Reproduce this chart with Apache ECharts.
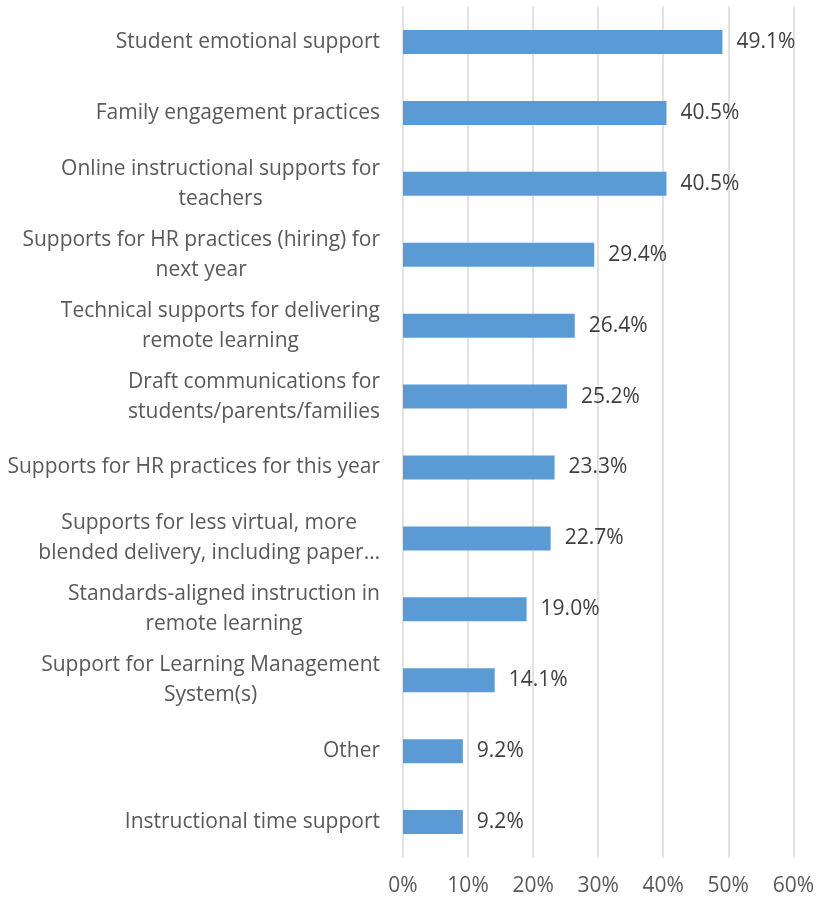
<!DOCTYPE html>
<html><head><meta charset="utf-8">
<script src="https://cdn.jsdelivr.net/npm/echarts@6/dist/echarts.min.js"></script>
<style>html,body{margin:0;padding:0;background:#fff}#c{width:817px;height:897px}</style>
</head><body><div id="c"></div>
<script>
const categories = [
  "Student emotional support",
  "Family engagement practices",
  "Online instructional supports for\nteachers",
  "Supports for HR practices (hiring) for\nnext year",
  "Technical supports for delivering\nremote learning",
  "Draft communications for\nstudents/parents/families",
  "Supports for HR practices for this year",
  "Supports for less virtual, more\nblended delivery, including paper\u2026",
  "Standards-aligned instruction in\nremote learning",
  "Support for Learning Management\nSystem(s)",
  "Other",
  "Instructional time support"
];
const values = [49.1, 40.5, 40.5, 29.4, 26.4, 25.2, 23.3, 22.7, 19.0, 14.1, 9.2, 9.2];
const xTicks = [0, 10, 20, 30, 40, 50, 60];

const FONT = '"Open Sans"';
const FS = 21;
const chart = echarts.init(document.getElementById('c'));
chart.setOption({
  animation: false,
  grid: {left: 403, top: 6.5, width: 392, height: 851},
  xAxis: {
    type: 'value', min: xTicks[0], max: xTicks[xTicks.length-1], interval: 10,
    axisLine: {show: false}, axisTick: {show: false},
    splitLine: {lineStyle: {color: '#D9D9D9', width: 1.5}},
    axisLabel: {formatter: v => v + '%', color: '#595959', fontFamily: FONT, fontSize: FS, margin: 18}
  },
  yAxis: {
    type: 'category', data: categories, inverse: true,
    axisLine: {show: false}, axisTick: {show: false},
    axisLabel: {
      margin: 23, align: 'right',
      formatter: v => v.split('\n').map(s => '{c|' + s + '}').join('\n'),
      rich: {c: {align: 'center', color: '#595959', fontFamily: FONT, fontSize: FS, lineHeight: 30}}
    }
  },
  series: [{
    type: 'bar', data: values, barWidth: 24,
    itemStyle: {color: '#5B9BD5'},
    label: {show: true, position: 'right', distance: 14, formatter: p => p.value.toFixed(1) + '%',
      color: '#404040', fontFamily: FONT, fontSize: FS}
  }]
});
</script></body></html>
